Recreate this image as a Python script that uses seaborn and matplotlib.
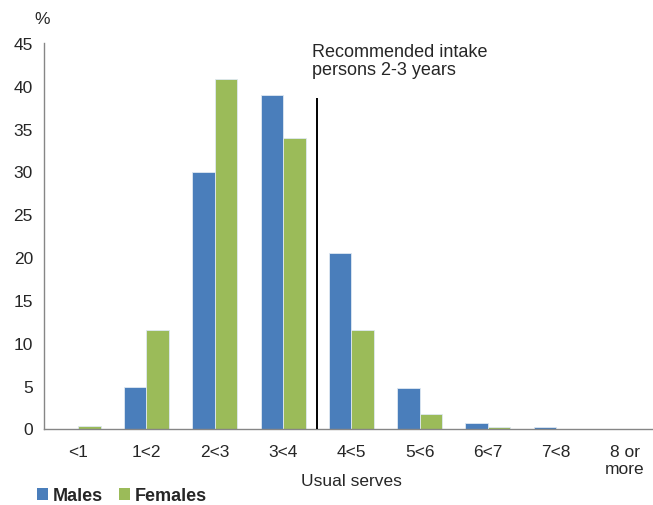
import matplotlib
matplotlib.use("Agg")
import matplotlib.pyplot as plt
import seaborn as sns
import pandas as pd
from matplotlib.patches import Patch

categories = ["<1", "1<2", "2<3", "3<4", "4<5", "5<6", "6<7", "7<8", "8 or\nmore"]
males = [0.0, 4.9, 30.0, 38.9, 20.5, 4.7, 0.7, 0.2, 0.0]
females = [0.3, 11.5, 40.8, 33.9, 11.5, 1.7, 0.2, 0.0, 0.0]
series = ["Males", "Females"]
colors = ["#4A7EBB", "#9BBB59"]
y_ticks = [0, 5, 10, 15, 20, 25, 30, 35, 40, 45]
rec_x = 3.5
rec_top = 38.6
rec_label = "Recommended intake\npersons 2-3 years"

df = pd.DataFrame({
    "cat": categories * 2,
    "value": males + females,
    "sex": [series[0]] * len(categories) + [series[1]] * len(categories),
})

sns.set_theme(style="white")
plt.rcParams["font.family"] = ["Liberation Sans", "DejaVu Sans"]

FS = 12.5
W, H = 653, 506
fig = plt.figure(figsize=(W / 100, H / 100), dpi=100)
left, right = 44 / W, 658.7 / W
bottom, top = 1 - 429.5 / H, 1 - 44 / H
ax = fig.add_axes([left, bottom, right - left, top - bottom])

sns.barplot(data=df, x="cat", y="value", hue="sex", palette=colors,
            width=0.66, ax=ax, legend=False, saturation=1,
            edgecolor="#dfe8f2", linewidth=0.6)

ax.set_xlim(-0.5, len(categories) - 0.5)
ax.set_ylim(0, 45)
ax.set_yticks(y_ticks)
ax.set_yticklabels([str(t) for t in y_ticks], fontsize=FS)

# category ticks at boundaries, labels at centres
ax.set_xticks([i - 0.5 for i in range(len(categories) + 1)], minor=False)
ax.set_xticklabels([""] * (len(categories) + 1))
ax.set_xticks(range(len(categories)), minor=True)
ax.set_xticklabels(categories, minor=True, fontsize=FS, va="top", linespacing=1.2)
ax.tick_params(axis="x", which="minor", length=0, pad=11)
ax.tick_params(axis="x", which="major", length=5, width=1, color="#868686", direction="out")
ax.tick_params(axis="y", length=5, width=1, color="#868686", direction="out", pad=3)

for s in ["top", "right"]:
    ax.spines[s].set_visible(False)
for s in ["left", "bottom"]:
    ax.spines[s].set_color("#868686")
    ax.spines[s].set_linewidth(1)

ax.set_xlabel("Usual serves", fontsize=FS, va="center")
ax.xaxis.set_label_coords(0.5, -52.5 / 385.5)
ax.set_ylabel("")

ax.vlines(rec_x, 0, rec_top, color="black", linewidth=1.4, zorder=5)
ax.text(3.42, 45.0, rec_label, fontsize=13, va="top", ha="left", linespacing=1.1)

fig.text(42 / W, 1 - 20 / H, "%", fontsize=FS, ha="center", va="center")

handles = [Patch(facecolor=c, edgecolor="none") for c in colors]
fig.legend(handles, series, loc="center left", bbox_to_anchor=(37 / W, 1 - 497 / H),
           ncol=2, frameon=False, handlelength=0.6, handleheight=0.6,
           handletextpad=0.3, columnspacing=0.85, borderpad=0, borderaxespad=0,
           prop={"size": 13, "weight": "bold"})

fig.savefig("out.png", dpi=100, facecolor="white")
